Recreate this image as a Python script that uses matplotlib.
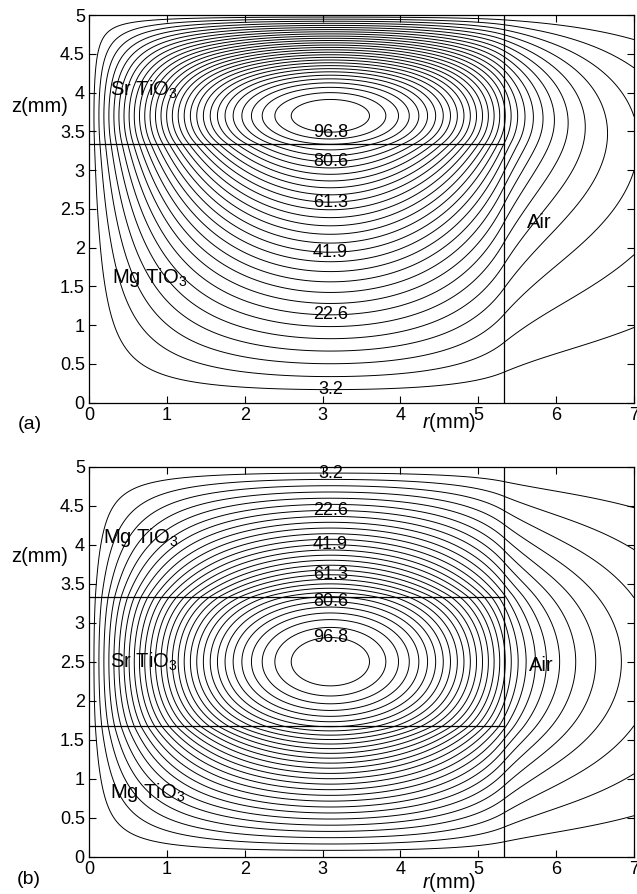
import numpy as np
import matplotlib
matplotlib.use("Agg")
import matplotlib.pyplot as plt
from matplotlib.ticker import FuncFormatter

plt.rcParams["font.family"] = ["Liberation Sans", "DejaVu Sans"]
plt.rcParams["mathtext.fontset"] = "custom"
plt.rcParams["mathtext.rm"] = "Liberation Sans"
plt.rcParams["mathtext.it"] = "Liberation Sans:italic"

# geometry (mm)
R_MAX = 7.0
Z_MAX = 5.0
ROD_RADIUS = 5.33
interfaces_a = [3.33]
interfaces_b = [1.67, 3.33]

# contour levels (% of peak); every 6th one carries a label
levels = np.linspace(0, 100, 32)[1:-1]
label_levels = levels[[0, 6, 12, 18, 24, 29]]
LABEL_R = 3.1

# field shape
R_PEAK = 3.1        # radius of the maximum
AIR_DECAY = 0.6     # 1/mm, far decay of the field in the air gap
AIR_SMOOTH = 0.5    # extra decay per axial harmonic in the air gap
peak_a = 3.7        # (a): maximum in the SrTiO3 layer
alpha_a = 0.45      # growth in the MgTiO3 layer
peak_b = 2.5        # (b): maximum in the middle of SrTiO3
beta_b = 0.822
alpha_b = 0.6


def z_profile_a(z):
    zi = interfaces_a[0]
    beta = np.pi / 2 / (Z_MAX - peak_a)
    top = np.cos(beta * (z - peak_a))
    bottom = np.cos(beta * (zi - peak_a)) * np.sinh(alpha_a * z) / np.sinh(alpha_a * zi)
    return np.where(z >= zi, top, bottom)


def z_profile_b(z):
    lo, hi = interfaces_b
    half = hi - peak_b
    d = np.minimum(z, Z_MAX - z)
    core = np.cos(beta_b * (z - peak_b))
    edge = np.cos(beta_b * half) * np.sinh(alpha_b * d) / np.sinh(alpha_b * lo)
    return np.where(np.abs(z - peak_b) <= half, core, edge)


def field(zprof):
    r = np.linspace(0, R_MAX, 561)
    z = np.linspace(0, Z_MAX, 501)
    zin = zprof(z)
    k = np.pi / (2 * R_PEAK)
    rin = np.sin(k * r)
    ra = np.sin(k * ROD_RADIUS)
    g0 = -k / np.tan(k * ROD_RADIUS)  # decay rate just inside the rod wall
    n = np.arange(1, 90)
    modes = np.sin(np.outer(n, z) * np.pi / Z_MAX)
    b = 2 / Z_MAX * np.trapezoid(modes * zin, z, axis=1)
    dr = np.clip(r - ROD_RADIUS, 0, None)
    # decay rate eases from g0 at the wall to AIR_DECAY further out
    env = np.exp(-(AIR_DECAY * dr + (g0 - AIR_DECAY) * 0.5 * (1 - np.exp(-dr / 0.5))))
    q = dr ** 2 / (dr + 1.0)          # smooth start of the harmonic decay
    decay = np.exp(-np.outer(AIR_SMOOTH * (n - 1), q))
    air = ra * env[None, :] * np.einsum("n,nr,nz->zr", b, decay, modes)
    inside = np.outer(zin, rin)
    f = np.where(r[None, :] >= ROD_RADIUS, air, inside)
    return r, z, 100 * f


def panel(ax, zprof, interfaces, label_side, texts):
    r, z, f = field(zprof)
    ax.contour(r, z, f, levels=levels, colors="k", linewidths=0.7)
    # labels sit on the contours where they cross r = LABEL_R
    col = f[:, np.argmin(np.abs(r - LABEL_R))]
    ipk = np.argmax(col)
    for lev in label_levels:
        if label_side == "below":
            zl = np.interp(lev, col[:ipk + 1], z[:ipk + 1])
        else:
            zl = np.interp(lev, col[ipk:][::-1], z[ipk:][::-1])
        ax.text(LABEL_R, zl, "%.1f" % lev, fontsize=13, ha="center", va="center")
    for zi in interfaces:
        ax.plot([0, ROD_RADIUS], [zi, zi], color="k", lw=0.9)
    ax.axvline(ROD_RADIUS, color="k", lw=0.9)
    for x, y, s in texts:
        ax.text(x, y, s, fontsize=14.5, ha="left", va="center")
    ax.set_xlim(0, R_MAX)
    ax.set_ylim(0, Z_MAX)
    ax.set_xticks(np.arange(0, 8))
    ax.set_yticks(np.arange(0, 5.01, 0.5))
    fmt = FuncFormatter(lambda v, p: "%g" % v)
    ax.xaxis.set_major_formatter(fmt)
    ax.yaxis.set_major_formatter(fmt)
    ax.tick_params(direction="in", top=True, right=True, length=5,
                   labelsize=13, pad=3)
    for s in ax.spines.values():
        s.set_linewidth(0.9)


fig = plt.figure(figsize=(6.37, 8.94), dpi=100)
W, H = 637, 894
ax_a = fig.add_axes([89 / W, 1 - 402.7 / H, 545 / W, 387.7 / H])
ax_b = fig.add_axes([89 / W, 1 - 856.7 / H, 545 / W, 390 / H])

sr = r"Sr TiO$_\mathregular{3}$"
mg = r"Mg TiO$_\mathregular{3}$"
panel(ax_a, z_profile_a, interfaces_a, "below",
      [(0.27, 4.03, sr), (0.29, 1.62, mg), (5.63, 2.32, "Air")])
panel(ax_b, z_profile_b, interfaces_b, "above",
      [(0.18, 4.09, mg), (0.27, 2.5, sr), (0.27, 0.82, mg), (5.65, 2.45, "Air")])

for yc in [107, 557]:
    fig.text(40 / W, 1 - yc / H, "z(mm)", fontsize=14.5, ha="center", va="center")
fig.text(18 / W, 1 - 424 / H, "(a)", fontsize=14, ha="left", va="center")
fig.text(17 / W, 1 - 880 / H, "(b)", fontsize=14, ha="left", va="center")
fig.text(449 / W, 1 - 422 / H, r"$\mathit{r}$(mm)", fontsize=14.5, ha="center", va="center")
fig.text(449 / W, 1 - 882 / H, r"$\mathit{r}$(mm)", fontsize=14.5, ha="center", va="center")

fig.savefig("out.png", dpi=100)
